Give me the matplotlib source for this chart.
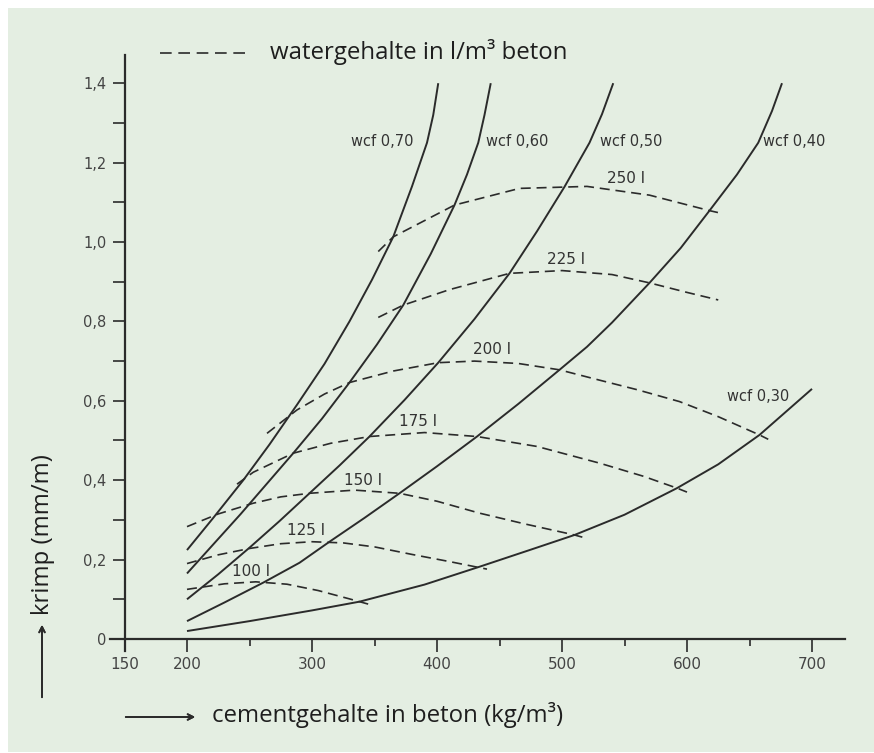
import matplotlib.pyplot as plt
from matplotlib import font_manager
from matplotlib.patches import Rectangle
from matplotlib.lines import Line2D

plt.rcParams['font.family'] = ['Open Sans', 'DejaVu Sans']

# condensed lettering for the drawing itself, if available
names = {f.name for f in font_manager.fontManager.ttflist}
draw_font = 'Liberation Sans Narrow' if 'Liberation Sans Narrow' in names else 'DejaVu Sans'

# solid lines: krimp per water/cement factor (wcf)
wcf30_x = [200, 250, 300, 338, 390, 434, 475, 510, 550, 592, 625, 658, 700]
wcf30_y = [0.02, 0.045, 0.072, 0.094, 0.137, 0.182, 0.225, 0.262, 0.313, 0.38, 0.44, 0.514, 0.63]

wcf40_x = [200, 230, 261, 290, 314, 342, 370, 400, 432, 465, 498, 520, 540, 570, 595, 618, 640, 657, 668, 676]
wcf40_y = [0.045, 0.092, 0.142, 0.192, 0.245, 0.305, 0.367, 0.435, 0.51, 0.592, 0.678, 0.736, 0.797, 0.897,
           0.985, 1.079, 1.17, 1.25, 1.33, 1.40]

wcf50_x = [200, 225, 250, 274, 298, 322, 346, 374, 401, 430, 458, 480, 502, 522, 532, 541]
wcf50_y = [0.10, 0.163, 0.23, 0.297, 0.367, 0.437, 0.51, 0.602, 0.696, 0.806, 0.921, 1.027, 1.139,
           1.25, 1.322, 1.40]

wcf60_x = [200, 243, 285, 308, 330, 352, 373, 395, 414, 424, 433, 438, 443]
wcf60_y = [0.165, 0.315, 0.468, 0.555, 0.646, 0.742, 0.841, 0.97, 1.093, 1.17, 1.25, 1.32, 1.40]

wcf70_x = [200, 221, 245, 266, 288, 310, 330, 348, 365, 380, 392, 397, 401]
wcf70_y = [0.224, 0.305, 0.40, 0.49, 0.59, 0.693, 0.80, 0.905, 1.013, 1.14, 1.25, 1.32, 1.40]

# dashed lines: krimp per water content (l/m3)
w100_x = [200, 230, 255, 280, 305, 330, 346]
w100_y = [0.125, 0.139, 0.144, 0.138, 0.122, 0.101, 0.087]

w125_x = [200, 225, 250, 275, 300, 325, 350, 380, 410, 440]
w125_y = [0.19, 0.212, 0.228, 0.24, 0.245, 0.242, 0.232, 0.213, 0.195, 0.176]

w150_x = [200, 225, 253, 275, 298, 334, 370, 400, 434, 470, 510, 518]
w150_y = [0.283, 0.315, 0.342, 0.358, 0.367, 0.375, 0.367, 0.347, 0.317, 0.29, 0.262, 0.255]

w175_x = [240, 253, 285, 315, 346, 390, 432, 480, 530, 565, 592, 600]
w175_y = [0.39, 0.42, 0.468, 0.493, 0.51, 0.52, 0.51, 0.485, 0.443, 0.41, 0.38, 0.37]

w200_x = [264, 288, 310, 330, 365, 401, 430, 465, 498, 530, 560, 594, 625, 658, 665]
w200_y = [0.518, 0.577, 0.617, 0.646, 0.675, 0.696, 0.70, 0.694, 0.678, 0.652, 0.628, 0.598, 0.56,
          0.514, 0.503]

w225_x = [353, 373, 410, 458, 500, 540, 570, 600, 625]
w225_y = [0.81, 0.841, 0.88, 0.921, 0.928, 0.918, 0.897, 0.873, 0.854]

w250_x = [353, 365, 414, 466, 520, 570, 618, 625]
w250_y = [0.976, 1.013, 1.093, 1.135, 1.14, 1.118, 1.079, 1.074]

wcf_curves = [(wcf30_x, wcf30_y), (wcf40_x, wcf40_y), (wcf50_x, wcf50_y),
              (wcf60_x, wcf60_y), (wcf70_x, wcf70_y)]
water_curves = [(w100_x, w100_y), (w125_x, w125_y), (w150_x, w150_y), (w175_x, w175_y),
                (w200_x, w200_y), (w225_x, w225_y), (w250_x, w250_y)]

wcf_labels = ['wcf 0,30', 'wcf 0,40', 'wcf 0,50', 'wcf 0,60', 'wcf 0,70']
wcf_label_xy = [(657, 0.61), (686, 1.253), (555, 1.253), (464, 1.253), (356, 1.253)]

water_labels = ['100 l', '125 l', '150 l', '175 l', '200 l', '225 l', '250 l']
water_label_xy = [(251, 0.17), (295, 0.273), (341, 0.40), (385, 0.547), (444, 0.728),
                  (503, 0.955), (551, 1.161)]

x_ticks = [150, 200, 300, 400, 500, 600, 700]
x_minor = [250, 350, 450, 550, 650]
y_ticks = [0, 0.2, 0.4, 0.6, 0.8, 1.0, 1.2, 1.4]
y_ticklabels = ['0', '0,2', '0,4', '0,6', '0,8', '1,0', '1,2', '1,4']
y_minor = [0.1, 0.3, 0.5, 0.7, 0.9, 1.1, 1.3]

ink = '#2b2b2b'
panel = '#e4eee2'

W, H = 874, 753
fig = plt.figure(figsize=(W / 100, H / 100), dpi=100)
fig.patch.set_facecolor('white')
fig.patches.append(Rectangle((8 / W, 1 / H), 1 - 8 / W, 1 - 9 / H, transform=fig.transFigure,
                             facecolor=panel, edgecolor='none', zorder=-10))

ax = fig.add_axes([109.5 / W, 1 - 650.9 / H, 735 / W, 595.5 / H])
ax.set_facecolor('none')
ax.set_xlim(138, 726)
ax.set_ylim(-0.03, 1.47)

for x, y in wcf_curves:
    ax.plot(x, y, color=ink, lw=1.4, solid_capstyle='butt', solid_joinstyle='round')
for x, y in water_curves:
    ax.plot(x, y, color=ink, lw=1.2, linestyle=(0, (6, 3.5)))

for txt, (x, y) in zip(wcf_labels, wcf_label_xy):
    ax.text(x, y, txt, ha='center', va='center', fontsize=10.5, color='#333333', family=draw_font)
for txt, (x, y) in zip(water_labels, water_label_xy):
    ax.text(x, y, txt, ha='center', va='center', fontsize=11, color='#333333', family=draw_font)

# axes drawn like the original: crossing at (150, 0)
for s in ['top', 'right']:
    ax.spines[s].set_visible(False)
ax.spines['left'].set_position(('data', 150))
ax.spines['bottom'].set_position(('data', 0))
ax.spines['left'].set_linewidth(1.6)
ax.spines['bottom'].set_linewidth(1.6)
ax.spines['left'].set_color(ink)
ax.spines['bottom'].set_color(ink)

ax.set_xticks(x_ticks)
ax.set_xticklabels([str(v) for v in x_ticks], family=draw_font, fontsize=11, color='#444444')
ax.set_xticks(x_minor, minor=True)
ax.set_yticks(y_ticks)
ax.set_yticklabels(y_ticklabels, family=draw_font, fontsize=10.5, color='#444444')
ax.set_yticks(y_minor, minor=True)
ax.tick_params(axis='x', which='major', length=9, width=1.2, color=ink, pad=4)
ax.tick_params(axis='x', which='minor', length=5, width=1.2, color=ink)
ax.tick_params(axis='y', which='both', length=9, width=1.2, color=ink, pad=4)

# legend line on top
fig.add_artist(Line2D([160 / W, 251 / W], [1 - 53 / H, 1 - 53 / H], transform=fig.transFigure,
                      color=ink, lw=1.2, linestyle=(0, (7, 4))))
fig.text(270 / W, 1 - 52 / H, 'watergehalte in l/m³ beton', fontsize=17.3, color='#1e1e1e',
         ha='left', va='center')

# axis titles with arrows
fig.text(212 / W, 1 - 715 / H, 'cementgehalte in beton (kg/m³)', fontsize=17.3, color='#1e1e1e',
         ha='left', va='center')
fig.add_artist(plt.annotate('', xy=(198 / W, 1 - 717 / H), xytext=(123 / W, 1 - 717 / H),
                            xycoords='figure fraction',
                            arrowprops=dict(arrowstyle='->', color=ink, lw=1.3)))
fig.text(43 / W, 1 - 535 / H, 'krimp (mm/m)', fontsize=17.3, color='#1e1e1e', rotation=90,
         ha='center', va='center')
fig.add_artist(plt.annotate('', xy=(42 / W, 1 - 622 / H), xytext=(42 / W, 1 - 700 / H),
                            xycoords='figure fraction',
                            arrowprops=dict(arrowstyle='->', color=ink, lw=1.3)))

fig.savefig('out.png', dpi=100)
